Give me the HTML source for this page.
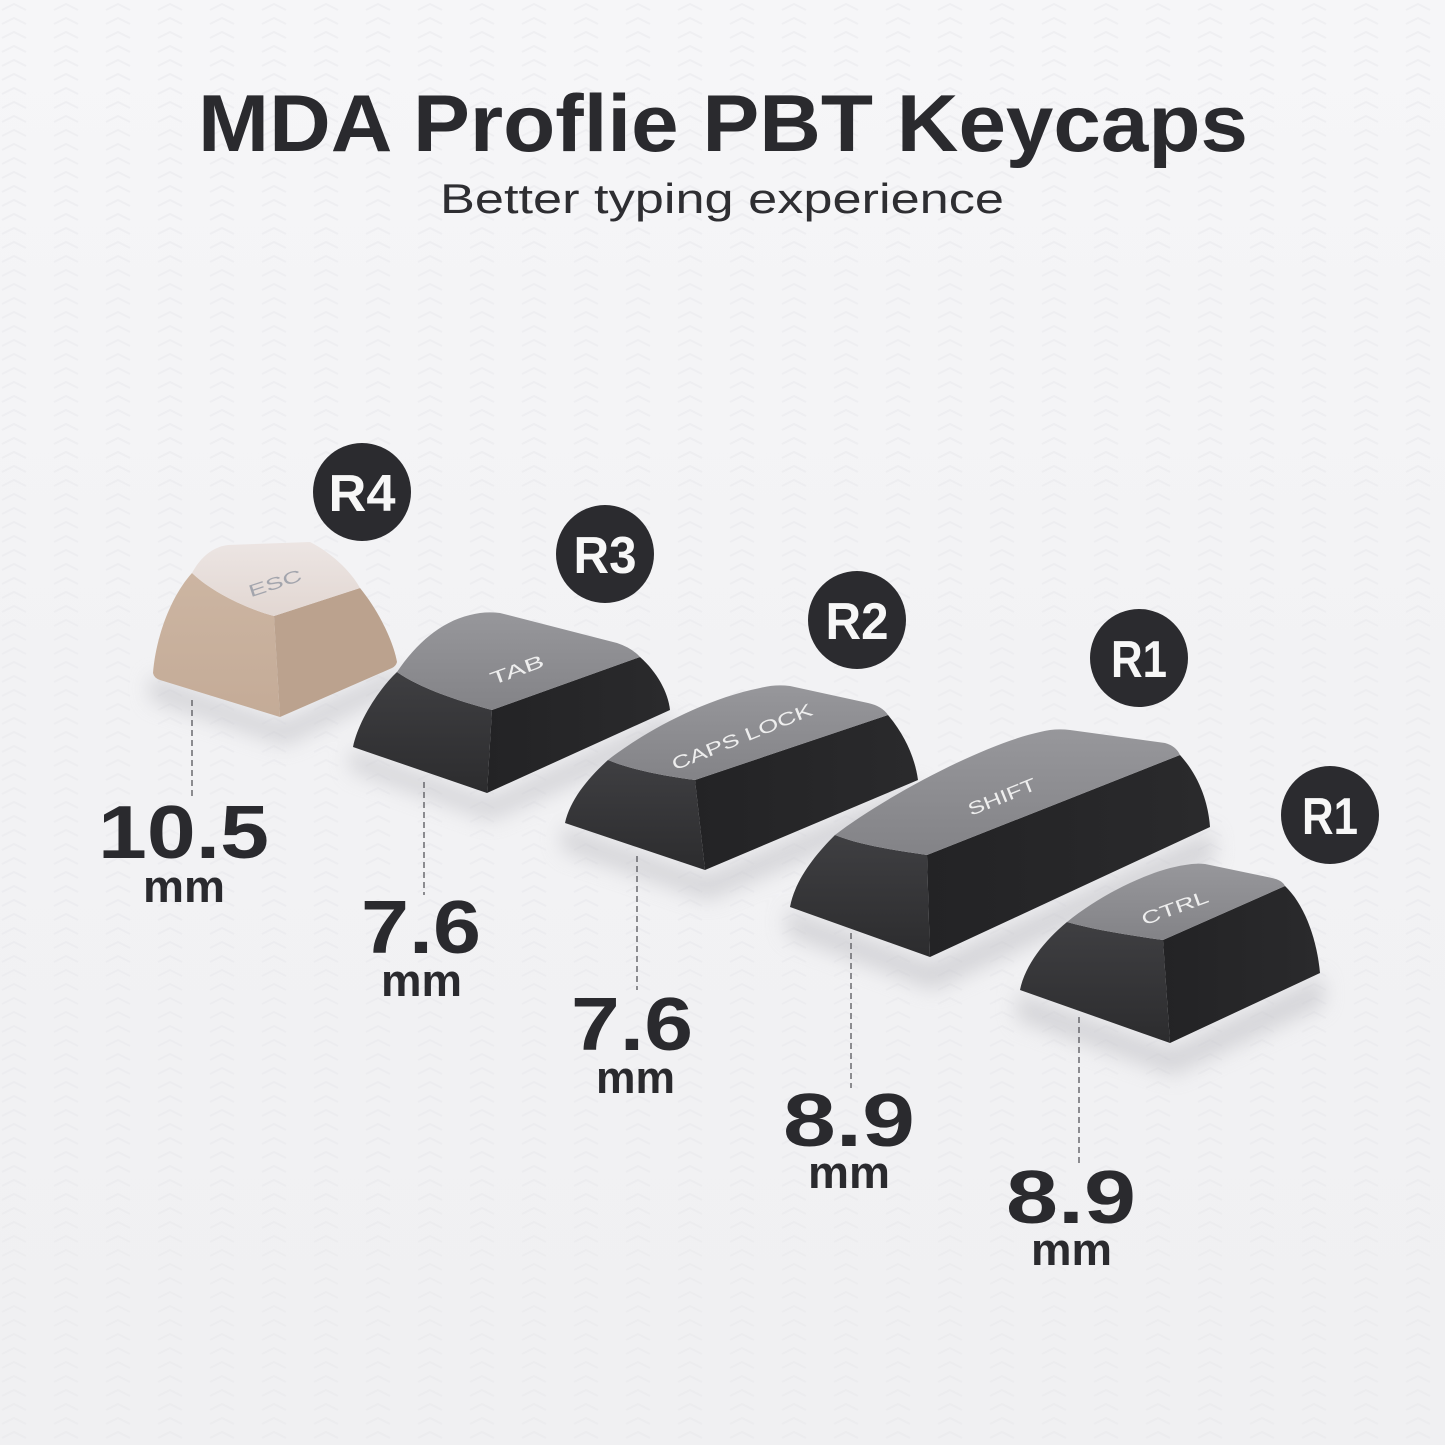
<!DOCTYPE html>
<html>
<head>
<meta charset="utf-8">
<style>
  html, body { margin: 0; padding: 0; background: #f2f2f4; }
  svg { display: block; }
  .lbl { font-family: "Liberation Sans", sans-serif; font-weight: bold; fill: #2a2a2e; }
  .cap { font-family: "Liberation Sans", sans-serif; font-weight: bold; fill: #f7f7f7; }
  .key { font-family: "Liberation Sans", sans-serif; fill: #eeeeee; }
</style>
</head>
<body>
<svg width="1445" height="1445" viewBox="0 0 1445 1445" xmlns="http://www.w3.org/2000/svg">
  <defs>
    <linearGradient id="bg" x1="0" y1="0" x2="0" y2="1">
      <stop offset="0" stop-color="#f6f6f8"/>
      <stop offset="0.5" stop-color="#f2f2f4"/>
      <stop offset="1" stop-color="#f0f0f2"/>
    </linearGradient>
    <pattern id="chev" width="52" height="14" patternUnits="userSpaceOnUse">
      <path d="M2,10 L14,4 L26,10" fill="none" stroke="#e6e6ea" stroke-width="2"/>
    </pattern>
    <linearGradient id="frontDark" x1="0" y1="0" x2="0" y2="1">
      <stop offset="0" stop-color="#3f3f42"/>
      <stop offset="1" stop-color="#2c2c2e"/>
    </linearGradient>
    <linearGradient id="rightDark" x1="0" y1="0" x2="1" y2="0">
      <stop offset="0" stop-color="#232325"/>
      <stop offset="1" stop-color="#2a2a2c"/>
    </linearGradient>
    <linearGradient id="topGray" x1="0" y1="0" x2="0" y2="1">
      <stop offset="0" stop-color="#97979b"/>
      <stop offset="1" stop-color="#838387"/>
    </linearGradient>
    <linearGradient id="escFront" x1="0" y1="0" x2="0" y2="1">
      <stop offset="0" stop-color="#ccb5a2"/>
      <stop offset="1" stop-color="#c4ab97"/>
    </linearGradient>
    <linearGradient id="escTop" x1="0" y1="0" x2="0" y2="1">
      <stop offset="0" stop-color="#ece5e3"/>
      <stop offset="1" stop-color="#e2d7d2"/>
    </linearGradient>
    <filter id="blur" x="-30%" y="-30%" width="160%" height="160%">
      <feGaussianBlur stdDeviation="10"/>
    </filter>
  </defs>

  <rect x="0" y="0" width="1445" height="1445" fill="url(#bg)"/>
  <rect x="0" y="0" width="1445" height="1445" fill="url(#chev)" opacity="0.45"/>

  <!-- Title -->
  <text class="lbl" x="198" y="151" font-size="81" textLength="1050" lengthAdjust="spacingAndGlyphs">MDA Proflie PBT Keycaps</text>
  <text x="440" y="213" font-family="Liberation Sans, sans-serif" font-size="42" fill="#2e2e32" textLength="564" lengthAdjust="spacingAndGlyphs">Better typing experience</text>

  <!-- shadows -->
  <g filter="url(#blur)" fill="#bdbdc2" opacity="0.55">
    <path d="M150,675 L282,722 L400,665 L400,690 L285,745 L150,700 Z"/>
    <path d="M350,748 L488,798 L672,712 L675,740 L490,820 L350,770 Z"/>
    <path d="M562,825 L706,875 L920,782 L922,810 L708,900 L562,850 Z"/>
    <path d="M787,908 L931,962 L1212,830 L1214,860 L933,990 L787,935 Z"/>
    <path d="M1017,992 L1171,1048 L1322,975 L1324,1005 L1173,1075 L1017,1020 Z"/>
  </g>

  <!-- Dashed lines -->
  <g stroke="#55555a" stroke-width="1.3" stroke-dasharray="6 4" fill="none">
    <line x1="192" y1="700" x2="192" y2="800"/>
    <line x1="424" y1="782" x2="424" y2="895"/>
    <line x1="637" y1="856" x2="637" y2="990"/>
    <line x1="851" y1="933" x2="851" y2="1088"/>
    <line x1="1079" y1="1017" x2="1079" y2="1167"/>
  </g>

  <!-- ESC keycap -->
  <path d="M192,573 C172,595 156,635 153,673 Q154,678 160,680 L280,717 L274,616 C245,608 212,592 192,573 Z" fill="url(#escFront)"/>
  <path d="M274,616 L360,588 C378,610 393,640 397,662 Q396,666 392,668 L280,717 Z" fill="#bba28e"/>
  <path d="M192,573 C200,558 212,547 228,545 L310,542 C330,552 350,570 360,588 L274,616 C245,608 212,592 192,573 Z" fill="url(#escTop)"/>
  <text x="275" y="589" font-family="Liberation Sans, sans-serif" font-size="17" fill="#a3a5ad" text-anchor="middle" transform="rotate(-18 275 583)" textLength="55" lengthAdjust="spacingAndGlyphs">ESC</text>

  <!-- TAB keycap -->
  <path d="M397,672 C378,690 358,722 353,747 L487,793 L492,710 C455,700 420,688 397,672 Z" fill="url(#frontDark)"/>
  <path d="M492,710 L640,657 C657,672 668,692 670,710 L487,793 Z" fill="url(#rightDark)"/>
  <path d="M397,672 C415,645 440,622 470,615 Q485,611 500,613 L617,643 Q632,648 640,657 L492,710 C455,700 420,688 397,672 Z" fill="url(#topGray)"/>
  <text class="key" x="517" y="676" font-size="18" text-anchor="middle" transform="rotate(-20 517 670)" textLength="56" lengthAdjust="spacingAndGlyphs">TAB</text>

  <!-- CAPS LOCK keycap -->
  <path d="M608,760 C588,778 570,800 565,823 L705,870 L695,780 C665,776 632,770 608,760 Z" fill="url(#frontDark)"/>
  <path d="M695,780 L888,715 C905,735 915,758 918,780 L705,870 Z" fill="url(#rightDark)"/>
  <path d="M608,760 C640,735 700,700 760,688 Q775,684 790,686 L868,703 Q882,706 888,715 L695,780 C665,776 632,770 608,760 Z" fill="url(#topGray)"/>
  <text class="key" x="742" y="743" font-size="18" text-anchor="middle" transform="rotate(-22 742 737)" textLength="150" lengthAdjust="spacingAndGlyphs">CAPS LOCK</text>

  <!-- SHIFT keycap -->
  <path d="M835,835 C815,855 795,880 790,907 L930,957 L927,855 C893,850 860,845 835,835 Z" fill="url(#frontDark)"/>
  <path d="M927,855 L1180,755 C1198,775 1208,800 1210,827 L930,957 Z" fill="url(#rightDark)"/>
  <path d="M835,835 C880,800 980,745 1040,732 Q1055,728 1070,730 L1165,743 Q1176,746 1180,755 L927,855 C893,850 860,845 835,835 Z" fill="url(#topGray)"/>
  <text class="key" x="1002" y="803" font-size="18" text-anchor="middle" transform="rotate(-22 1002 797)" textLength="72" lengthAdjust="spacingAndGlyphs">SHIFT</text>

  <!-- CTRL keycap -->
  <path d="M1067,922 C1045,940 1025,965 1020,990 L1170,1043 L1163,940 C1128,935 1095,930 1067,922 Z" fill="url(#frontDark)"/>
  <path d="M1163,940 L1285,886 C1305,905 1317,940 1320,973 L1170,1043 Z" fill="url(#rightDark)"/>
  <path d="M1067,922 C1100,895 1150,870 1185,865 Q1195,863 1205,864 L1272,878 Q1282,880 1285,886 L1163,940 C1128,935 1095,930 1067,922 Z" fill="url(#topGray)"/>
  <text class="key" x="1175" y="914" font-size="18" text-anchor="middle" transform="rotate(-20 1175 908)" textLength="70" lengthAdjust="spacingAndGlyphs">CTRL</text>

  <!-- Row circles -->
  <g fill="#2b2b2f">
    <circle cx="362" cy="492" r="49"/>
    <circle cx="605" cy="554" r="49"/>
    <circle cx="857" cy="620" r="49"/>
    <circle cx="1139" cy="658" r="49"/>
    <circle cx="1330" cy="815" r="49"/>
  </g>
  <text class="cap" x="362" y="511" font-size="52" text-anchor="middle" textLength="67" lengthAdjust="spacingAndGlyphs">R4</text>
  <text class="cap" x="605" y="573" font-size="52" text-anchor="middle" textLength="63" lengthAdjust="spacingAndGlyphs">R3</text>
  <text class="cap" x="857" y="639" font-size="52" text-anchor="middle" textLength="63" lengthAdjust="spacingAndGlyphs">R2</text>
  <text class="cap" x="1139" y="677" font-size="52" text-anchor="middle" textLength="56" lengthAdjust="spacingAndGlyphs">R1</text>
  <text class="cap" x="1330" y="834" font-size="52" text-anchor="middle" textLength="56" lengthAdjust="spacingAndGlyphs">R1</text>

  <!-- Dimension labels -->
  <text class="lbl" x="98" y="858" font-size="75" textLength="171" lengthAdjust="spacingAndGlyphs">10.5</text>
  <text class="lbl" x="143" y="902" font-size="45" textLength="82" lengthAdjust="spacingAndGlyphs">mm</text>

  <text class="lbl" x="361" y="953" font-size="75" textLength="120" lengthAdjust="spacingAndGlyphs">7.6</text>
  <text class="lbl" x="381" y="996" font-size="45" textLength="81" lengthAdjust="spacingAndGlyphs">mm</text>

  <text class="lbl" x="571" y="1050" font-size="75" textLength="122" lengthAdjust="spacingAndGlyphs">7.6</text>
  <text class="lbl" x="596" y="1093" font-size="45" textLength="79" lengthAdjust="spacingAndGlyphs">mm</text>

  <text class="lbl" x="783" y="1146" font-size="75" textLength="132" lengthAdjust="spacingAndGlyphs">8.9</text>
  <text class="lbl" x="808" y="1188" font-size="45" textLength="82" lengthAdjust="spacingAndGlyphs">mm</text>

  <text class="lbl" x="1006" y="1223" font-size="75" textLength="130" lengthAdjust="spacingAndGlyphs">8.9</text>
  <text class="lbl" x="1031" y="1265" font-size="45" textLength="81" lengthAdjust="spacingAndGlyphs">mm</text>
</svg>
</body>
</html>
